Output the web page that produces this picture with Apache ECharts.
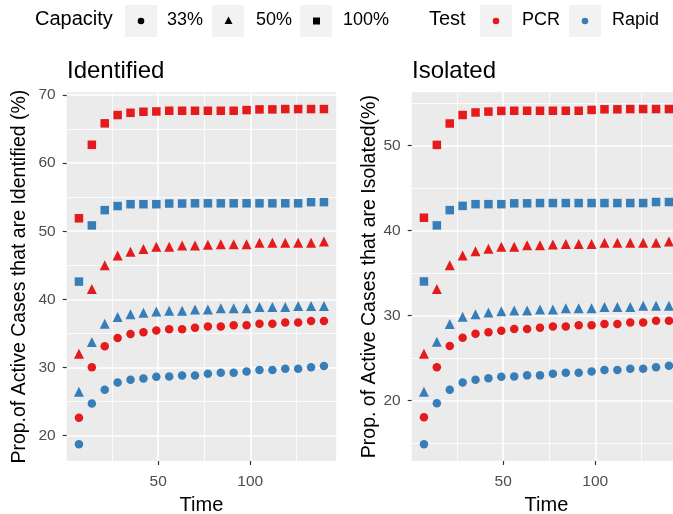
<!DOCTYPE html>
<html><head><meta charset="utf-8">
<script src="https://cdn.jsdelivr.net/npm/echarts@6/dist/echarts.min.js"></script>
<style>html,body{margin:0;padding:0;background:#fff}#c{width:673px;height:514px}</style>
</head><body><div id="c"></div>
<script>
// ---- data ----
const time = [7,14,21,28,35,42,49,56,63,70,77,84,91,98,105,112,119,126,133,140];
const capacities = ['33%','50%','100%'];
const tests = ['PCR','Rapid'];
// Identified panel
const idPcr100 = [51.9,62.7,65.85,67.07,67.4,67.55,67.6,67.7,67.7,67.7,67.7,67.7,67.7,67.8,67.9,67.9,67.95,67.95,67.95,67.95];
const idRap100 = [42.6,50.85,53.1,53.7,53.97,53.97,53.97,54.07,54.07,54.1,54.1,54.1,54.1,54.1,54.1,54.1,54.1,54.1,54.27,54.27];
const idPcr50  = [32.0,41.5,45.0,46.44,47.0,47.4,47.7,47.7,47.9,47.9,48.0,48.1,48.1,48.1,48.3,48.3,48.3,48.3,48.3,48.5];
const idRap50  = [26.4,33.74,36.4,37.4,37.8,38.03,38.2,38.3,38.3,38.5,38.5,38.67,38.67,38.67,38.87,38.87,38.87,39.0,39.0,39.0];
const idPcr33  = [22.6,30.0,33.1,34.3,34.9,35.15,35.4,35.6,35.6,35.8,36.0,36.0,36.2,36.2,36.4,36.4,36.6,36.6,36.8,36.8];
const idRap33  = [18.7,24.7,26.7,27.77,28.16,28.36,28.6,28.65,28.8,28.8,29.05,29.2,29.2,29.4,29.6,29.6,29.8,29.8,30.0,30.2];
// Isolated panel
const isPcr100 = [41.5,50.08,52.6,53.6,53.9,54.0,54.08,54.1,54.1,54.1,54.1,54.1,54.1,54.2,54.27,54.27,54.3,54.3,54.3,54.3];
const isRap100 = [34.0,40.6,42.4,42.9,43.1,43.1,43.1,43.2,43.2,43.23,43.23,43.23,43.23,43.23,43.23,43.23,43.23,43.23,43.35,43.35];
const isPcr50  = [25.5,33.1,35.9,37.07,37.55,37.86,38.1,38.1,38.26,38.26,38.34,38.4,38.4,38.4,38.57,38.57,38.57,38.57,38.57,38.7];
const isRap50  = [21.0,26.9,29.0,29.84,30.14,30.34,30.5,30.58,30.58,30.7,30.7,30.85,30.85,30.85,31.0,31.0,31.0,31.13,31.13,31.13];
const isPcr33  = [18.0,23.9,26.4,27.37,27.84,28.03,28.2,28.4,28.4,28.54,28.7,28.7,28.85,28.85,29.0,29.0,29.17,29.17,29.36,29.36];
const isRap33  = [14.83,19.65,21.26,22.1,22.43,22.59,22.78,22.82,22.94,22.94,23.14,23.25,23.25,23.4,23.56,23.56,23.73,23.73,23.9,24.08];
// tick labels
const xTicks = [50,100];
const xMinor = [25,75,125];
const idTicks = [20,30,40,50,60,70];
const idMinor = [25,35,45,55,65];
const isTicks = [20,30,40,50];
const isMinor = [15,25,35,45,55];

// ---- styling ----
const RED = '#E41A1C', BLUE = '#377EB8';
const FONT = '"Liberation Sans", Arial, sans-serif';
const shapeOf = {'33%':'circle','50%':'triangle','100%':'rect'};
const sizeOf = {'33%':8.5,'50%':10,'100%':8.5};
const colorOf = {'PCR':RED,'Rapid':BLUE};

function expand(arrs){
  let mn=Infinity,mx=-Infinity;
  arrs.forEach(a=>a.forEach(v=>{mn=Math.min(mn,v);mx=Math.max(mx,v);}));
  const p=(mx-mn)*0.05; return [mn-p,mx+p];
}
const xr = [time[0]-(time[time.length-1]-time[0])*0.05, time[time.length-1]+(time[time.length-1]-time[0])*0.05];
const idR = expand([idPcr100,idRap100,idPcr50,idRap50,idPcr33,idRap33]);
const isR = expand([isPcr100,isRap100,isPcr50,isRap50,isPcr33,isRap33]);

const panels = [
  {sets:{'PCR':{'33%':idPcr33,'50%':idPcr50,'100%':idPcr100},'Rapid':{'33%':idRap33,'50%':idRap50,'100%':idRap100}}, range:idR, ticks:idTicks, minor:idMinor},
  {sets:{'PCR':{'33%':isPcr33,'50%':isPcr50,'100%':isPcr100},'Rapid':{'33%':isRap33,'50%':isRap50,'100%':isRap100}}, range:isR, ticks:isTicks, minor:isMinor}
];

const series = [];
panels.forEach((p,gi)=>{
  // gridlines through the axes' scales
  const ml = [];
  p.minor.forEach(v=>ml.push({yAxis:v,lineStyle:{width:0.8}}));
  xMinor.forEach(v=>ml.push({xAxis:v,lineStyle:{width:0.8}}));
  p.ticks.forEach(v=>ml.push({yAxis:v,lineStyle:{width:1.6}}));
  xTicks.forEach(v=>ml.push({xAxis:v,lineStyle:{width:1.6}}));
  series.push({type:'scatter',xAxisIndex:gi,yAxisIndex:gi,data:[[time[0],p.range[0]+1]],symbolSize:0,silent:true,z:0,zlevel:0,
    markLine:{z:0,silent:true,symbol:['none','none'],label:{show:false},animation:false,
      lineStyle:{color:'#FFFFFF',type:'solid'},emphasis:{disabled:true},data:ml}});
  tests.forEach(t=>{
    capacities.forEach(c=>{
      series.push({type:'scatter',name:t+' '+c,xAxisIndex:gi,yAxisIndex:gi,z:6,
        symbol:shapeOf[c],symbolSize:sizeOf[c],
        itemStyle:{color:colorOf[t],opacity:1},
        data:time.map((x,i)=>[x,p.sets[t][c][i]])});
    });
  });
});

const gridTop=92.3, gridH=368.7, gridW=269.5;
const tickLbl = {color:'#4D4D4D',fontSize:15.5,fontFamily:FONT};
function xAxis(gi){
  return {gridIndex:gi,type:'value',min:xr[0],max:xr[1],splitLine:{show:false},
    axisLine:{show:false},axisTick:{show:true,length:4,customValues:xTicks,lineStyle:{color:'#333',width:1.2}},
    axisLabel:Object.assign({customValues:xTicks,margin:13},tickLbl),
    name:'Time',nameLocation:'middle',nameGap:34,nameTextStyle:{fontSize:20,color:'#000',fontFamily:FONT}};
}
function yAxis(gi,p,name,gap){
  return {gridIndex:gi,type:'value',min:p.range[0],max:p.range[1],splitLine:{show:false},
    axisLine:{show:false},axisTick:{show:true,length:4,customValues:p.ticks,lineStyle:{color:'#333',width:1.2}},
    axisLabel:Object.assign({customValues:p.ticks,margin:11},tickLbl),
    name:name,nameLocation:'middle',nameGap:gap,nameTextStyle:{fontSize:19.5,color:'#000',fontFamily:FONT}};
}

// legend (drawn as graphics)
const g = [];
g.push({type:'text',left:35,top:9,style:{text:'Capacity',fontSize:20,fontFamily:FONT,fill:'#000'}});
const capKeys=[{x:125,t:'33%',tx:167},{x:212,t:'50%',tx:256},{x:300,t:'100%',tx:343}];
capKeys.forEach(k=>{
  g.push({type:'rect',shape:{x:k.x,y:5,width:32,height:32},style:{fill:'#F2F2F2'},silent:true});
  g.push({type:'text',left:k.tx,top:11,style:{text:k.t,fontSize:18,fontFamily:FONT,fill:'#000'}});
});
g.push({type:'circle',shape:{cx:141,cy:21,r:3.3},style:{fill:'#000'}});
g.push({type:'polygon',shape:{points:[[228.5,16.5],[232.5,24],[224.5,24]]},style:{fill:'#000'}});
g.push({type:'rect',shape:{x:313,y:17.5,width:7,height:7},style:{fill:'#000'}});
g.push({type:'text',left:429,top:9,style:{text:'Test',fontSize:20,fontFamily:FONT,fill:'#000'}});
const testKeys=[{x:480,t:'PCR',tx:522,c:RED},{x:569,t:'Rapid',tx:612,c:BLUE}];
testKeys.forEach(k=>{
  g.push({type:'rect',shape:{x:k.x,y:5,width:32,height:32},style:{fill:'#F2F2F2'},silent:true});
  g.push({type:'circle',shape:{cx:k.x+16,cy:21,r:3.3},style:{fill:k.c}});
  g.push({type:'text',left:k.tx,top:11,style:{text:k.t,fontSize:18,fontFamily:FONT,fill:'#000'}});
});

const chart = echarts.init(document.getElementById('c'),null,{renderer:'canvas'});
chart.setOption({
  animation:false,
  backgroundColor:'#FFFFFF',
  textStyle:{fontFamily:FONT},
  title:[
    {text:'Identified',left:62,top:54,textStyle:{fontSize:24,fontWeight:'normal',color:'#000',fontFamily:FONT}},
    {text:'Isolated',left:407,top:54,textStyle:{fontSize:24,fontWeight:'normal',color:'#000',fontFamily:FONT}}
  ],
  grid:[
    {left:66.7,top:gridTop,width:gridW,height:gridH,show:true,backgroundColor:'#EBEBEB',borderWidth:0,containLabel:false,outerBoundsMode:'none'},
    {left:411.7,top:gridTop,width:gridW,height:gridH,show:true,backgroundColor:'#EBEBEB',borderWidth:0,containLabel:false,outerBoundsMode:'none'}
  ],
  xAxis:[xAxis(0),xAxis(1)],
  yAxis:[yAxis(0,panels[0],'Prop.of Active Cases that are Identified (%)',37),
         yAxis(1,panels[1],'Prop. of Active Cases that are Isolated(%)',31)],
  graphic:g,
  series:series
});
</script></body></html>
